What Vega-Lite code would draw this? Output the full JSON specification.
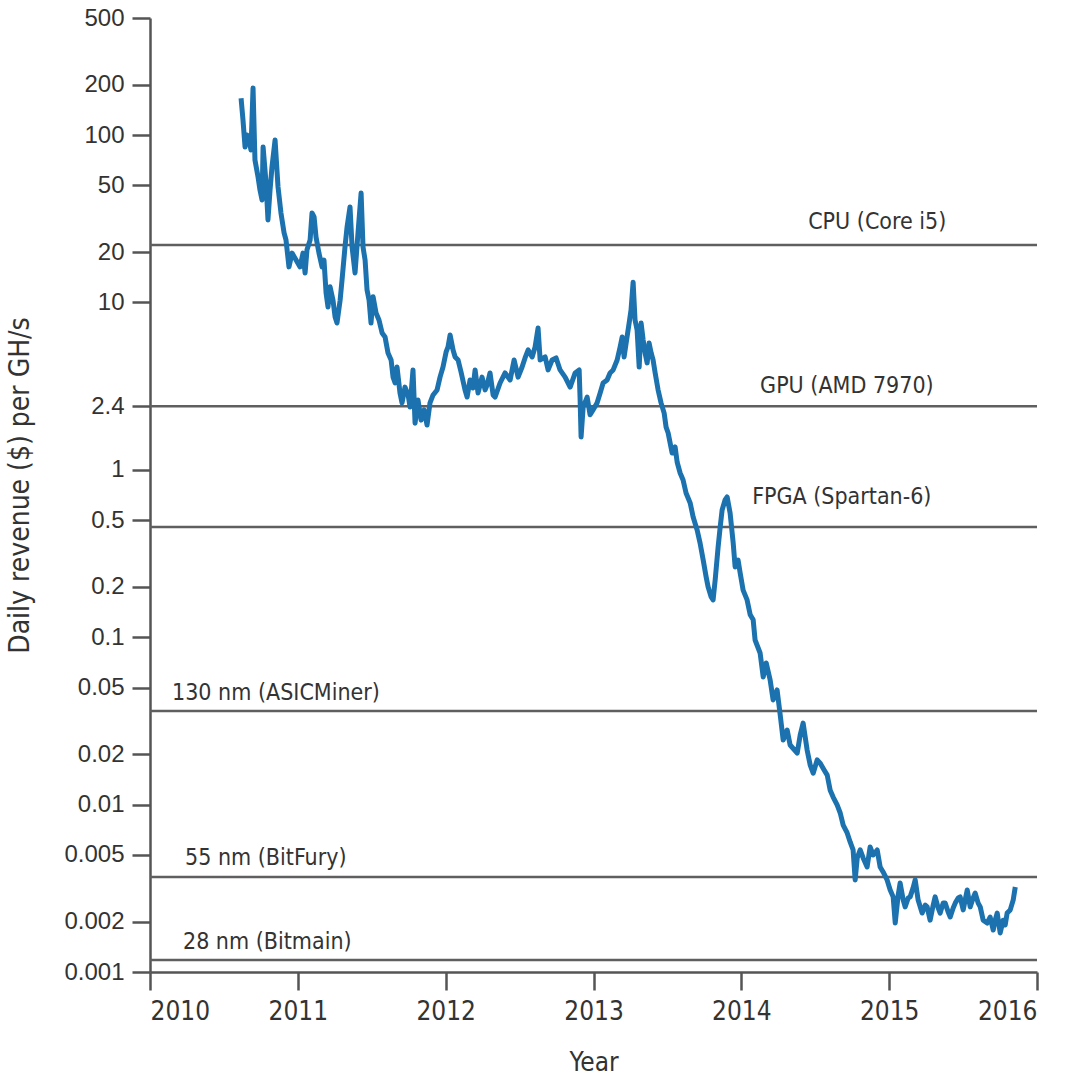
{
  "$schema": "https://vega.github.io/schema/vega-lite/v6.json",
  "width": 887,
  "height": 954,
  "autosize": {"type": "none"},
  "padding": {"left": 150, "top": 18, "right": 34, "bottom": 106},
  "background": "white",
  "config": {"view": {"stroke": null}, "font": "Liberation Sans"},
  "datasets": {
    "revenue": [
      {"year": 2010.616, "revenue": 166}, {"year": 2010.629, "revenue": 123}, {"year": 2010.643, "revenue": 84.8},
      {"year": 2010.656, "revenue": 100}, {"year": 2010.670, "revenue": 93.4}, {"year": 2010.683, "revenue": 81.4},
      {"year": 2010.697, "revenue": 191}, {"year": 2010.710, "revenue": 70.9}, {"year": 2010.731, "revenue": 56.1},
      {"year": 2010.744, "revenue": 46.9}, {"year": 2010.758, "revenue": 40.9}, {"year": 2010.765, "revenue": 84.8},
      {"year": 2010.785, "revenue": 51.7}, {"year": 2010.798, "revenue": 31.1}, {"year": 2010.812, "revenue": 46.9},
      {"year": 2010.825, "revenue": 64.4}, {"year": 2010.846, "revenue": 93.4}, {"year": 2010.866, "revenue": 48.9},
      {"year": 2010.886, "revenue": 34.2}, {"year": 2010.907, "revenue": 26.0}, {"year": 2010.920, "revenue": 23.6},
      {"year": 2010.940, "revenue": 16.3}, {"year": 2010.961, "revenue": 19.7}, {"year": 2010.988, "revenue": 17.9},
      {"year": 2011.015, "revenue": 16.3}, {"year": 2011.035, "revenue": 19.7}, {"year": 2011.049, "revenue": 15.0},
      {"year": 2011.062, "revenue": 20.6}, {"year": 2011.083, "revenue": 23.6}, {"year": 2011.096, "revenue": 34.2},
      {"year": 2011.110, "revenue": 32.4}, {"year": 2011.123, "revenue": 24.6}, {"year": 2011.143, "revenue": 19.7},
      {"year": 2011.164, "revenue": 16.3}, {"year": 2011.177, "revenue": 17.9}, {"year": 2011.191, "revenue": 11.4},
      {"year": 2011.204, "revenue": 9.39}, {"year": 2011.218, "revenue": 12.4}, {"year": 2011.238, "revenue": 10.3},
      {"year": 2011.252, "revenue": 8.18}, {"year": 2011.265, "revenue": 7.53}, {"year": 2011.286, "revenue": 10.3},
      {"year": 2011.299, "revenue": 13.6}, {"year": 2011.319, "revenue": 21.4}, {"year": 2011.333, "revenue": 28.2},
      {"year": 2011.353, "revenue": 37.2}, {"year": 2011.367, "revenue": 21.4}, {"year": 2011.387, "revenue": 15.0},
      {"year": 2011.407, "revenue": 26.0}, {"year": 2011.428, "revenue": 45.0}, {"year": 2011.441, "revenue": 21.4},
      {"year": 2011.455, "revenue": 17.9}, {"year": 2011.468, "revenue": 11.9}, {"year": 2011.482, "revenue": 10.3},
      {"year": 2011.495, "revenue": 7.53}, {"year": 2011.509, "revenue": 10.8}, {"year": 2011.529, "revenue": 8.65},
      {"year": 2011.549, "revenue": 7.85}, {"year": 2011.570, "revenue": 6.57}, {"year": 2011.590, "revenue": 6.22},
      {"year": 2011.610, "revenue": 4.99}, {"year": 2011.631, "revenue": 4.53}, {"year": 2011.644, "revenue": 3.58},
      {"year": 2011.658, "revenue": 3.30}, {"year": 2011.671, "revenue": 4.11}, {"year": 2011.691, "revenue": 2.88},
      {"year": 2011.705, "revenue": 2.51}, {"year": 2011.725, "revenue": 3.12}, {"year": 2011.746, "revenue": 2.80},
      {"year": 2011.759, "revenue": 2.37}, {"year": 2011.779, "revenue": 3.95}, {"year": 2011.793, "revenue": 1.90},
      {"year": 2011.813, "revenue": 2.61}, {"year": 2011.834, "revenue": 1.98}, {"year": 2011.854, "revenue": 2.28},
      {"year": 2011.874, "revenue": 1.85}, {"year": 2011.894, "revenue": 2.51}, {"year": 2011.915, "revenue": 2.80},
      {"year": 2011.942, "revenue": 3.00}, {"year": 2011.962, "revenue": 3.58}, {"year": 2011.982, "revenue": 4.11},
      {"year": 2012.003, "revenue": 5.06}, {"year": 2012.016, "revenue": 5.42}, {"year": 2012.030, "revenue": 6.39},
      {"year": 2012.050, "revenue": 5.20}, {"year": 2012.064, "revenue": 4.72}, {"year": 2012.084, "revenue": 4.53},
      {"year": 2012.104, "revenue": 3.84}, {"year": 2012.131, "revenue": 3.00}, {"year": 2012.145, "revenue": 2.72},
      {"year": 2012.165, "revenue": 3.44}, {"year": 2012.185, "revenue": 3.08}, {"year": 2012.199, "revenue": 3.95},
      {"year": 2012.219, "revenue": 2.88}, {"year": 2012.246, "revenue": 3.58}, {"year": 2012.267, "revenue": 3.00},
      {"year": 2012.280, "revenue": 3.21}, {"year": 2012.300, "revenue": 3.79}, {"year": 2012.321, "revenue": 2.80},
      {"year": 2012.334, "revenue": 2.72}, {"year": 2012.368, "revenue": 3.30}, {"year": 2012.402, "revenue": 3.79},
      {"year": 2012.436, "revenue": 3.44}, {"year": 2012.463, "revenue": 4.53}, {"year": 2012.490, "revenue": 3.58},
      {"year": 2012.517, "revenue": 4.11}, {"year": 2012.537, "revenue": 4.66}, {"year": 2012.558, "revenue": 5.20},
      {"year": 2012.585, "revenue": 4.72}, {"year": 2012.605, "revenue": 5.42}, {"year": 2012.625, "revenue": 7.03},
      {"year": 2012.639, "revenue": 4.53}, {"year": 2012.673, "revenue": 4.72}, {"year": 2012.693, "revenue": 3.95},
      {"year": 2012.720, "revenue": 4.53}, {"year": 2012.747, "revenue": 4.66}, {"year": 2012.774, "revenue": 3.95},
      {"year": 2012.808, "revenue": 3.58}, {"year": 2012.842, "revenue": 3.12}, {"year": 2012.876, "revenue": 3.79},
      {"year": 2012.903, "revenue": 3.95}, {"year": 2012.909, "revenue": 2.72}, {"year": 2012.916, "revenue": 1.57},
      {"year": 2012.930, "revenue": 2.37}, {"year": 2012.957, "revenue": 2.72}, {"year": 2012.977, "revenue": 2.13},
      {"year": 2012.997, "revenue": 2.28}, {"year": 2013.024, "revenue": 2.51}, {"year": 2013.045, "revenue": 2.88},
      {"year": 2013.065, "revenue": 3.30}, {"year": 2013.092, "revenue": 3.44}, {"year": 2013.112, "revenue": 3.79},
      {"year": 2013.133, "revenue": 3.95}, {"year": 2013.160, "revenue": 4.53}, {"year": 2013.180, "revenue": 5.42},
      {"year": 2013.194, "revenue": 6.22}, {"year": 2013.207, "revenue": 4.72}, {"year": 2013.227, "revenue": 6.22},
      {"year": 2013.241, "revenue": 7.53}, {"year": 2013.254, "revenue": 9.01}, {"year": 2013.268, "revenue": 13.2},
      {"year": 2013.281, "revenue": 7.85}, {"year": 2013.295, "revenue": 6.84}, {"year": 2013.309, "revenue": 4.11},
      {"year": 2013.322, "revenue": 7.53}, {"year": 2013.336, "revenue": 5.96}, {"year": 2013.349, "revenue": 4.99},
      {"year": 2013.363, "revenue": 4.35}, {"year": 2013.376, "revenue": 5.72}, {"year": 2013.390, "revenue": 4.99},
      {"year": 2013.403, "revenue": 4.53}, {"year": 2013.417, "revenue": 3.79}, {"year": 2013.437, "revenue": 3.00},
      {"year": 2013.457, "revenue": 2.51}, {"year": 2013.478, "revenue": 2.18}, {"year": 2013.491, "revenue": 1.80},
      {"year": 2013.505, "revenue": 1.66}, {"year": 2013.518, "revenue": 1.45}, {"year": 2013.532, "revenue": 1.26},
      {"year": 2013.552, "revenue": 1.37}, {"year": 2013.566, "revenue": 1.11}, {"year": 2013.586, "revenue": 0.957},
      {"year": 2013.606, "revenue": 0.869}, {"year": 2013.626, "revenue": 0.727}, {"year": 2013.654, "revenue": 0.634},
      {"year": 2013.674, "revenue": 0.523}, {"year": 2013.701, "revenue": 0.437}, {"year": 2013.721, "revenue": 0.365},
      {"year": 2013.742, "revenue": 0.289}, {"year": 2013.762, "revenue": 0.229}, {"year": 2013.775, "revenue": 0.200},
      {"year": 2013.796, "revenue": 0.174}, {"year": 2013.809, "revenue": 0.167}, {"year": 2013.823, "revenue": 0.220},
      {"year": 2013.843, "revenue": 0.346}, {"year": 2013.857, "revenue": 0.455}, {"year": 2013.870, "revenue": 0.575},
      {"year": 2013.890, "revenue": 0.660}, {"year": 2013.904, "revenue": 0.688}, {"year": 2013.924, "revenue": 0.552},
      {"year": 2013.945, "revenue": 0.365}, {"year": 2013.958, "revenue": 0.263}, {"year": 2013.978, "revenue": 0.289},
      {"year": 2013.992, "revenue": 0.242}, {"year": 2014.012, "revenue": 0.191}, {"year": 2014.039, "revenue": 0.167},
      {"year": 2014.060, "revenue": 0.136}, {"year": 2014.080, "revenue": 0.127}, {"year": 2014.093, "revenue": 0.0962},
      {"year": 2014.127, "revenue": 0.0805}, {"year": 2014.148, "revenue": 0.0579}, {"year": 2014.168, "revenue": 0.0702},
      {"year": 2014.195, "revenue": 0.0555}, {"year": 2014.215, "revenue": 0.0422}, {"year": 2014.242, "revenue": 0.0484},
      {"year": 2014.263, "revenue": 0.0343}, {"year": 2014.283, "revenue": 0.0243}, {"year": 2014.310, "revenue": 0.0279},
      {"year": 2014.330, "revenue": 0.0227}, {"year": 2014.378, "revenue": 0.0203}, {"year": 2014.398, "revenue": 0.0260},
      {"year": 2014.418, "revenue": 0.0307}, {"year": 2014.445, "revenue": 0.0212}, {"year": 2014.466, "revenue": 0.0172},
      {"year": 2014.486, "revenue": 0.0154}, {"year": 2014.513, "revenue": 0.0185}, {"year": 2014.533, "revenue": 0.0177},
      {"year": 2014.560, "revenue": 0.0161}, {"year": 2014.581, "revenue": 0.0150}, {"year": 2014.601, "revenue": 0.0122},
      {"year": 2014.621, "revenue": 0.0111}, {"year": 2014.648, "revenue": 0.00995}, {"year": 2014.669, "revenue": 0.00891},
      {"year": 2014.689, "revenue": 0.00755}, {"year": 2014.716, "revenue": 0.00677}, {"year": 2014.736, "revenue": 0.00598},
      {"year": 2014.756, "revenue": 0.00536}, {"year": 2014.770, "revenue": 0.00355}, {"year": 2014.784, "revenue": 0.00480},
      {"year": 2014.804, "revenue": 0.00536}, {"year": 2014.824, "revenue": 0.00480}, {"year": 2014.851, "revenue": 0.00424},
      {"year": 2014.871, "revenue": 0.00558}, {"year": 2014.892, "revenue": 0.00500}, {"year": 2014.919, "revenue": 0.00536},
      {"year": 2014.939, "revenue": 0.00424}, {"year": 2014.959, "revenue": 0.00396}, {"year": 2014.986, "revenue": 0.00355},
      {"year": 2015.007, "revenue": 0.00309}, {"year": 2015.027, "revenue": 0.00281}, {"year": 2015.041, "revenue": 0.00196},
      {"year": 2015.061, "revenue": 0.00288}, {"year": 2015.074, "revenue": 0.00340}, {"year": 2015.095, "revenue": 0.00269},
      {"year": 2015.108, "revenue": 0.00245}, {"year": 2015.129, "revenue": 0.00277}, {"year": 2015.142, "revenue": 0.00281},
      {"year": 2015.162, "revenue": 0.00318}, {"year": 2015.176, "revenue": 0.00355}, {"year": 2015.196, "revenue": 0.00269},
      {"year": 2015.223, "revenue": 0.00225}, {"year": 2015.244, "revenue": 0.00251}, {"year": 2015.257, "revenue": 0.00245},
      {"year": 2015.277, "revenue": 0.00204}, {"year": 2015.298, "revenue": 0.00251}, {"year": 2015.311, "revenue": 0.00281},
      {"year": 2015.332, "revenue": 0.00241}, {"year": 2015.345, "revenue": 0.00225}, {"year": 2015.365, "revenue": 0.00258},
      {"year": 2015.379, "revenue": 0.00258}, {"year": 2015.399, "revenue": 0.00228}, {"year": 2015.413, "revenue": 0.00213},
      {"year": 2015.433, "revenue": 0.00241}, {"year": 2015.447, "revenue": 0.00258}, {"year": 2015.467, "revenue": 0.00277},
      {"year": 2015.480, "revenue": 0.00281}, {"year": 2015.501, "revenue": 0.00235}, {"year": 2015.514, "revenue": 0.00269},
      {"year": 2015.528, "revenue": 0.00309}, {"year": 2015.548, "revenue": 0.00245}, {"year": 2015.568, "revenue": 0.00277},
      {"year": 2015.582, "revenue": 0.00296}, {"year": 2015.602, "revenue": 0.00258}, {"year": 2015.616, "revenue": 0.00245},
      {"year": 2015.636, "revenue": 0.00204}, {"year": 2015.663, "revenue": 0.00196}, {"year": 2015.683, "revenue": 0.00213},
      {"year": 2015.704, "revenue": 0.00178}, {"year": 2015.717, "revenue": 0.00204}, {"year": 2015.731, "revenue": 0.00225},
      {"year": 2015.751, "revenue": 0.00171}, {"year": 2015.771, "revenue": 0.00204}, {"year": 2015.785, "revenue": 0.00191},
      {"year": 2015.798, "revenue": 0.00225}, {"year": 2015.819, "revenue": 0.00235}, {"year": 2015.839, "revenue": 0.00269},
      {"year": 2015.853, "revenue": 0.00322}
    ],
    "thresholds": [
      {"label": "CPU (Core i5)", "revenue": 22.0, "labelYear": 2014.452, "labelRevenue": 30.2},
      {"label": "GPU (AMD 7970)", "revenue": 2.4, "labelYear": 2014.127, "labelRevenue": 3.17},
      {"label": "FPGA (Spartan-6)", "revenue": 0.455, "labelYear": 2014.073, "labelRevenue": 0.688},
      {"label": "130 nm (ASICMiner)", "revenue": 0.0362, "labelYear": 2010.149, "labelRevenue": 0.0464},
      {"label": "55 nm (BitFury)", "revenue": 0.00369, "labelYear": 2010.237, "labelRevenue": 0.0048},
      {"label": "28 nm (Bitmain)", "revenue": 0.00118, "labelYear": 2010.223, "labelRevenue": 0.00151}
    ]
  },
  "layer": [
    {
      "data": {"name": "thresholds"},
      "mark": {"type": "rule", "color": "#5f5f5f", "strokeWidth": 2.5},
      "encoding": {
        "y": {"field": "revenue", "type": "quantitative", "title": "Daily revenue ($) per GH/s",
              "scale": {"type": "log", "domain": [0.001, 500], "nice": false}}
      }
    },
    {
      "data": {"name": "revenue"},
      "mark": {"type": "line", "color": "#1b72ae", "strokeWidth": 5, "strokeJoin": "round"},
      "encoding": {
        "x": {"field": "year", "type": "quantitative", "title": "Year",
              "scale": {"domain": [2010, 2016], "nice": false, "zero": false},
              "axis": {"values": [2010, 2011, 2012, 2013, 2014, 2015, 2016], "format": "d", "grid": false,
                       "tickSize": 18, "tickWidth": 2.5, "tickColor": "#555", "domainColor": "#555", "domainWidth": 2.5,
                       "labelFont": "DejaVu Sans Condensed, Roboto, sans-serif", "labelFontSize": 26, "labelColor": "#333", "labelPadding": 8,
                       "titleFont": "DejaVu Sans Condensed, Roboto, sans-serif", "titleFontSize": 26, "titleFontWeight": "normal",
                       "titleColor": "#333", "titleY": 90, "titleBaseline": "middle"}},
        "y": {"field": "revenue", "type": "quantitative", "title": "Daily revenue ($) per GH/s",
              "scale": {"type": "log", "domain": [0.001, 500], "nice": false},
              "axis": {"values": [0.001, 0.002, 0.005, 0.01, 0.02, 0.05, 0.1, 0.2, 0.5, 1, 2.4, 10, 20, 50, 100, 200, 500],
                       "format": "~g", "grid": false,
                       "tickSize": 18, "tickWidth": 2.5, "tickColor": "#555", "domainColor": "#555", "domainWidth": 2.5,
                       "labelFont": "Liberation Sans", "labelFontSize": 24, "labelColor": "#333", "labelPadding": 8,
                       "titleFont": "DejaVu Sans Condensed, Roboto, sans-serif", "titleFontSize": 28, "titleFontWeight": "normal",
                       "titleColor": "#333", "titleX": -130, "titleY": 467, "titleBaseline": "middle"}}
      }
    },
    {
      "data": {"name": "thresholds"},
      "mark": {"type": "text", "align": "left", "baseline": "middle", "font": "DejaVu Sans Condensed, Roboto, sans-serif", "fontSize": 23, "color": "#333"},
      "encoding": {
        "x": {"field": "labelYear", "type": "quantitative", "title": "Year"},
        "y": {"field": "labelRevenue", "type": "quantitative", "title": "Daily revenue ($) per GH/s"},
        "text": {"field": "label"}
      }
    }
  ]
}
